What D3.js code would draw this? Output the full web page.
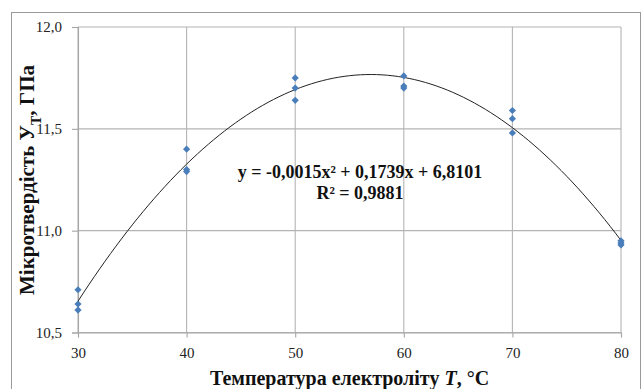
<!DOCTYPE html>
<html>
<head>
<meta charset="utf-8">
<script src="https://cdn.jsdelivr.net/npm/d3@7"></script>
<style>
  body { margin: 0; background: #fff; }
  svg { display: block; }
</style>
</head>
<body>
<svg id="chart" width="644" height="389"></svg>
<script>
// measured hardness, three specimens per electrolyte temperature
const temps = [30, 40, 50, 60, 70, 80];
const run1 = [10.71, 11.40, 11.75, 11.76, 11.59, 10.95];
const run2 = [10.64, 11.30, 11.70, 11.71, 11.55, 10.94];
const run3 = [10.61, 11.29, 11.64, 11.70, 11.48, 10.93];

const xTicks = [30, 40, 50, 60, 70, 80];
const yTicks = [10.5, 11.0, 11.5, 12.0];

const equationText = "y = -0,0015x² + 0,1739x + 6,8101";
const r2Text = "R² = 0,9881";

const margin = { top: 27, right: 23, bottom: 56.5, left: 78 };
const width = 644, height = 389;

const points = [];
temps.forEach((t, i) => {
    for (const run of [run1, run2, run3]) points.push({ x: t, y: run[i] });
});

// quadratic least squares, like the excel trendline
const fit = (() => {
    const S = [[0, 0, 0], [0, 0, 0], [0, 0, 0]];
    const b = [0, 0, 0];
    for (const p of points) {
        const v = [1, p.x, p.x * p.x];
        for (let r = 0; r < 3; r++) {
            b[r] += v[r] * p.y;
            for (let c = 0; c < 3; c++) S[r][c] += v[r] * v[c];
        }
    }
    for (let k = 0; k < 3; k++) {
        for (let r = k + 1; r < 3; r++) {
            const f = S[r][k] / S[k][k];
            for (let c = k; c < 3; c++) S[r][c] -= f * S[k][c];
            b[r] -= f * b[k];
        }
    }
    const co = [0, 0, 0];
    for (let r = 2; r >= 0; r--) {
        let s = b[r];
        for (let c = r + 1; c < 3; c++) s -= S[r][c] * co[c];
        co[r] = s / S[r][r];
    }
    return x => co[0] + co[1] * x + co[2] * x * x;
})();

const x = d3.scaleLinear().domain([30, 80]).range([margin.left, width - margin.right]);
const y = d3.scaleLinear().domain([10.5, 12.0]).range([height - margin.bottom, margin.top]);
const fmt = d3.format(".1f");
const serif = "'Liberation Serif', 'Times New Roman', serif";

const svg = d3.select("#chart");

svg.append("rect")
    .attr("x", 11.5).attr("y", 12.5)
    .attr("width", 629).attr("height", 400)
    .attr("fill", "#fff")
    .attr("stroke", "#9a9a9a")
    .attr("stroke-width", 1);

const grid = svg.append("g").attr("stroke", "#b4b4b4").attr("stroke-width", 1.1);
grid.selectAll(".gx").data(xTicks).join("line")
    .attr("x1", d => x(d)).attr("x2", d => x(d))
    .attr("y1", y(12.0)).attr("y2", y(10.5));
grid.selectAll(".gy").data(yTicks).join("line")
    .attr("x1", x(30)).attr("x2", x(80))
    .attr("y1", d => y(d)).attr("y2", d => y(d));

const yAxis = svg.append("g")
    .attr("transform", `translate(${margin.left},0)`)
    .call(d3.axisLeft(y).tickValues(yTicks).tickFormat(d => fmt(d).replace(".", ",")).tickSize(6).tickPadding(10));
const xAxis = svg.append("g")
    .attr("transform", `translate(0,${height - margin.bottom})`)
    .call(d3.axisBottom(x).tickValues(xTicks).tickSize(5).tickPadding(0));

for (const ax of [xAxis, yAxis]) {
    ax.select(".domain").attr("stroke", "#a6a6a6").attr("stroke-width", 1.1);
    ax.selectAll(".tick line").attr("stroke", "#a6a6a6").attr("stroke-width", 1.1);
    ax.selectAll(".tick text")
        .attr("fill", "#222")
        .attr("font-family", serif)
        .attr("font-size", 15);
}
xAxis.selectAll(".tick text").attr("y", 25.5).attr("dy", null);
yAxis.selectAll(".tick text").attr("dy", "0.33em");

// trendline
const line = d3.line().x(d => x(d)).y(d => y(fit(d)));
svg.append("path")
    .datum(d3.range(30, 80.001, 0.5))
    .attr("fill", "none")
    .attr("stroke", "#222")
    .attr("stroke-width", 1)
    .attr("d", line);

// diamonds
const r = 3.6;
svg.append("g")
    .attr("fill", "#4a7ebb")
    .selectAll("path")
    .data(points)
    .join("path")
    .attr("transform", d => `translate(${x(d.x)},${y(d.y)})`)
    .attr("d", `M0,${-r}L${r},0L0,${r}L${-r},0Z`);

svg.append("text")
    .attr("x", 360).attr("y", 178)
    .attr("text-anchor", "middle")
    .attr("font-family", serif).attr("font-weight", "bold").attr("font-size", 18)
    .attr("fill", "#111")
    .text(equationText);
svg.append("text")
    .attr("x", 360).attr("y", 199)
    .attr("text-anchor", "middle")
    .attr("font-family", serif).attr("font-weight", "bold").attr("font-size", 18)
    .attr("fill", "#111")
    .text(r2Text);

// axis titles
const xt = svg.append("text")
    .attr("x", (x(30) + x(80)) / 2).attr("y", 385)
    .attr("text-anchor", "middle")
    .attr("font-family", serif).attr("font-weight", "bold").attr("font-size", 20)
    .attr("fill", "#111");
xt.append("tspan").text("Температура електроліту ");
xt.append("tspan").attr("font-style", "italic").text("T");
xt.append("tspan").text(", °C");

const yt = svg.append("text")
    .attr("transform", "translate(34,180) rotate(-90)")
    .attr("text-anchor", "middle")
    .attr("font-family", serif).attr("font-weight", "bold").attr("font-size", 21)
    .attr("fill", "#111");
yt.append("tspan").text("Мікротвердість У");
yt.append("tspan").attr("font-size", 14).attr("dy", 7).text("Т");
yt.append("tspan").attr("dy", -7).text(", ГПа");
</script>
</body>
</html>
